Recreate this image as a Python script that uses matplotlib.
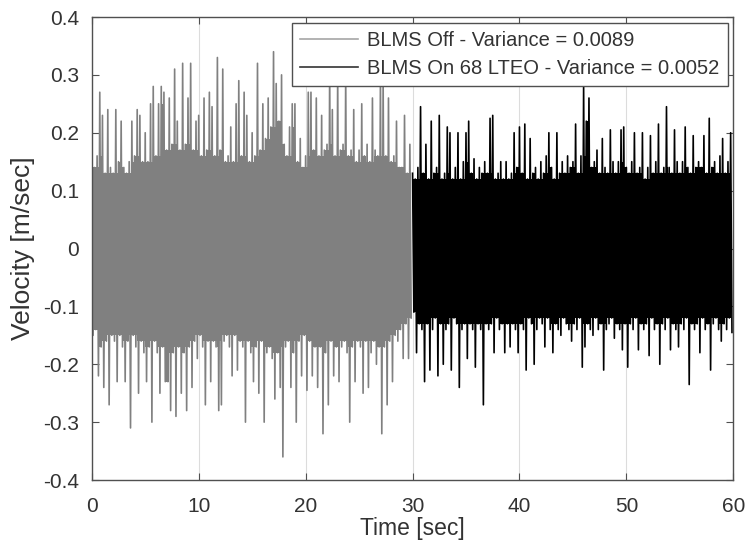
import numpy as np
import matplotlib
matplotlib.use("Agg")
import matplotlib.pyplot as plt

# ---- data: per-0.25 s positive / negative peaks ----
sample_step = 0.25  # seconds between successive peak pairs

off_upper = [
    0.15, 0.14, 0.16, 0.27,   0.23, 0.13, 0.24, 0.14,   0.13, 0.24, 0.15, 0.22,
    0.14, 0.13, 0.15, 0.22,   0.16, 0.24, 0.23, 0.15,   0.20, 0.15, 0.25, 0.28,
    0.16, 0.25, 0.28, 0.27,   0.17, 0.26, 0.18, 0.31,   0.22, 0.17, 0.32, 0.18,
    0.26, 0.32, 0.17, 0.22,   0.23, 0.16, 0.26, 0.17,   0.27, 0.245, 0.16, 0.33,
    0.17, 0.31, 0.15, 0.16,   0.21, 0.15, 0.25, 0.29,   0.16, 0.27, 0.23, 0.15,
    0.20, 0.16, 0.32, 0.17,   0.25, 0.19, 0.26, 0.21,   0.34, 0.285, 0.22, 0.30,
    0.18, 0.16, 0.21, 0.25,   0.25, 0.15, 0.19, 0.14,   0.16, 0.27, 0.27, 0.17,
    0.26, 0.16, 0.23, 0.17,   0.18, 0.31, 0.24, 0.16,   0.30, 0.17, 0.18, 0.30,
    0.16, 0.17, 0.24, 0.15,   0.17, 0.25, 0.16, 0.18,   0.15, 0.26, 0.17, 0.16,
    0.30, 0.29, 0.16, 0.26,   0.15, 0.16, 0.22, 0.14,   0.14, 0.23, 0.13, 0.18,
]
off_lower = [
    -0.15, -0.14, -0.22, -0.17,   -0.24, -0.16, -0.27, -0.15,   -0.16, -0.23, -0.15, -0.17,
    -0.23, -0.16, -0.31, -0.15,   -0.17, -0.25, -0.16, -0.18,   -0.23, -0.17, -0.30, -0.16,
    -0.18, -0.25, -0.17, -0.23,   -0.23, -0.28, -0.18, -0.29,   -0.17, -0.25, -0.18, -0.28,
    -0.17, -0.24, -0.16, -0.19,   -0.15, -0.17, -0.27, -0.16,   -0.23, -0.16, -0.17, -0.28,
    -0.27, -0.16, -0.15, -0.17,   -0.22, -0.15, -0.21, -0.16,   -0.17, -0.30, -0.16, -0.18,
    -0.23, -0.17, -0.25, -0.16,   -0.30, -0.18, -0.17, -0.19,   -0.26, -0.18, -0.24, -0.36,
    -0.17, -0.16, -0.24, -0.18,   -0.30, -0.16, -0.22, -0.15,   -0.245, -0.16, -0.22, -0.17,
    -0.24, -0.17, -0.32, -0.18,   -0.27, -0.16, -0.22, -0.17,   -0.23, -0.17, -0.16, -0.18,
    -0.30, -0.17, -0.23, -0.16,   -0.17, -0.25, -0.16, -0.24,   -0.18, -0.16, -0.20, -0.17,
    -0.32, -0.17, -0.27, -0.16,   -0.23, -0.15, -0.16, -0.14,   -0.19, -0.13, -0.19, -0.12,
]
on_upper = [
    0.13, 0.12, 0.14, 0.245,   0.13, 0.18, 0.12, 0.22,   0.13, 0.14, 0.23, 0.12,
    0.13, 0.21, 0.20, 0.12,    0.14, 0.20, 0.12, 0.15,   0.20, 0.22, 0.13, 0.155,
    0.12, 0.14, 0.13, 0.15,    0.13, 0.225, 0.23, 0.12,  0.13, 0.15, 0.12, 0.15,
    0.12, 0.13, 0.20, 0.14,    0.21, 0.13, 0.215, 0.12,  0.19, 0.13, 0.14, 0.12,
    0.15, 0.13, 0.16, 0.20,    0.14, 0.12, 0.20, 0.13,   0.15, 0.13, 0.16, 0.14,
    0.15, 0.215, 0.13, 0.16,   0.28, 0.22, 0.26, 0.14,   0.15, 0.17, 0.13, 0.19,
    0.14, 0.13, 0.205, 0.15,   0.13, 0.15, 0.205, 0.21, 0.14, 0.13, 0.15, 0.20,
    0.13, 0.14, 0.20, 0.12,    0.14, 0.195, 0.13, 0.15,  0.215, 0.13, 0.14, 0.245,
    0.14, 0.13, 0.205, 0.15,   0.13, 0.15, 0.21, 0.14,   0.13, 0.195, 0.14, 0.15,
    0.14, 0.195, 0.13, 0.225,  0.14, 0.15, 0.13, 0.16,   0.19, 0.13, 0.15, 0.20,
]
on_lower = [
    -0.11, -0.18, -0.13, -0.14,   -0.23, -0.13, -0.21, -0.14,   -0.12, -0.22, -0.13, -0.20,
    -0.14, -0.13, -0.21, -0.12,   -0.13, -0.24, -0.14, -0.13,   -0.19, -0.13, -0.14, -0.205,
    -0.13, -0.14, -0.27, -0.13,   -0.14, -0.13, -0.18, -0.12,   -0.14, -0.13, -0.18, -0.13,
    -0.17, -0.13, -0.14, -0.18,   -0.13, -0.14, -0.21, -0.12,   -0.13, -0.20, -0.14, -0.12,
    -0.13, -0.17, -0.12, -0.14,   -0.18, -0.13, -0.14, -0.15,   -0.12, -0.13, -0.14, -0.16,
    -0.13, -0.14, -0.12, -0.205,  -0.17, -0.13, -0.14, -0.15,   -0.12, -0.14, -0.13, -0.21,
    -0.14, -0.13, -0.12, -0.155,  -0.13, -0.14, -0.175, -0.13,  -0.205, -0.13, -0.14, -0.12,
    -0.175, -0.13, -0.14, -0.13,  -0.185, -0.12, -0.14, -0.13,  -0.20, -0.13, -0.14, -0.12,
    -0.175, -0.13, -0.14, -0.17,  -0.13, -0.14, -0.12, -0.235,  -0.13, -0.14, -0.13, -0.18,
    -0.12, -0.14, -0.13, -0.21,   -0.13, -0.12, -0.14, -0.16,   -0.13, -0.14, -0.12, -0.145,
]
off_start, on_start = 0.0, 30.0

labels = ["BLMS Off - Variance = 0.0089", "BLMS On 68 LTEO - Variance = 0.0052"]
x_ticks = [0, 10, 20, 30, 40, 50, 60]
y_ticks = [-0.4, -0.3, -0.2, -0.1, 0, 0.1, 0.2, 0.3, 0.4]
y_tick_labels = ["-0.4", "-0.3", "-0.2", "-0.1", "0", "0.1", "0.2", "0.3", "0.4"]


def build(start, upper, lower):
    up = np.asarray(upper)
    lo = np.asarray(lower)
    tk = start + sample_step * np.arange(len(up))
    t = np.column_stack([tk, tk + sample_step / 2]).ravel()
    y = np.column_stack([up, lo]).ravel()
    return t, y


def core(start, upper, lower):
    # dense centre of the trace: the smaller of each peak and its neighbours
    up = np.asarray(upper)
    lo = np.asarray(lower)
    up_p = np.pad(up, 1, mode="edge")
    lo_p = np.pad(lo, 1, mode="edge")
    cu = np.minimum(np.minimum(up_p[:-2], up_p[1:-1]), up_p[2:])
    cl = np.maximum(np.maximum(lo_p[:-2], lo_p[1:-1]), lo_p[2:])
    tk = start + sample_step * np.arange(len(up)) + sample_step / 4
    return tk, cl, cu


plt.rcParams["font.family"] = ["Liberation Sans", "DejaVu Sans"]
plt.rcParams["axes.unicode_minus"] = False

fig = plt.figure(figsize=(7.46, 5.52), dpi=100)
ax = fig.add_axes([0.123, 0.1304, 0.860, 0.8388])

t_off, y_off = build(off_start, off_upper, off_lower)
t_on, y_on = build(on_start, on_upper, on_lower)

off_col, on_col = "#808080", "black"
tc, cl, cu = core(off_start, off_upper, off_lower)
ax.fill_between(tc, cl, cu, step="mid", color=off_col, lw=0)
ax.plot(t_off, y_off, color=off_col, lw=1.2, label=labels[0])
tc, cl, cu = core(on_start, on_upper, on_lower)
ax.fill_between(tc, cl, cu, step="mid", color=on_col, lw=0)
ax.plot(t_on, y_on, color=on_col, lw=1.2, label=labels[1])

ax.set_xlim(0, 60)
ax.set_ylim(-0.4, 0.4)
ax.set_xticks(x_ticks)
ax.set_yticks(y_ticks)
ax.set_yticklabels(y_tick_labels)
ax.grid(axis="x", color="#dcdcdc", lw=0.8)
ax.set_axisbelow(True)

for s in ax.spines.values():
    s.set_color("#505050")
    s.set_linewidth(1.0)
ax.tick_params(direction="in", top=True, right=True, length=5, width=0.8,
               colors="#505050", labelcolor="#333333", labelsize=15)
ax.tick_params(axis="x", pad=12)
ax.tick_params(axis="y", pad=9)
ax.set_xlabel("Time [sec]", fontsize=16.5, color="#333333", labelpad=1)
ax.set_ylabel("Velocity [m/sec]", fontsize=19, color="#333333", labelpad=6)

leg = ax.legend(loc="upper right", fontsize=14.5, frameon=True, fancybox=False,
                handlelength=2.9, handletextpad=0.45, borderaxespad=0.28,
                labelspacing=0.45, borderpad=0.4)
leg.get_frame().set_edgecolor("#505050")
leg.get_frame().set_linewidth(1.0)
leg.get_frame().set_alpha(1)
leg.legend_handles[0].set_color("#a6a6a6")
leg.legend_handles[0].set_linewidth(1.2)
leg.legend_handles[1].set_color("#333333")
leg.legend_handles[1].set_linewidth(1.2)
for txt in leg.get_texts():
    txt.set_color("#333333")

fig.savefig("out.png", dpi=100, facecolor="white")
